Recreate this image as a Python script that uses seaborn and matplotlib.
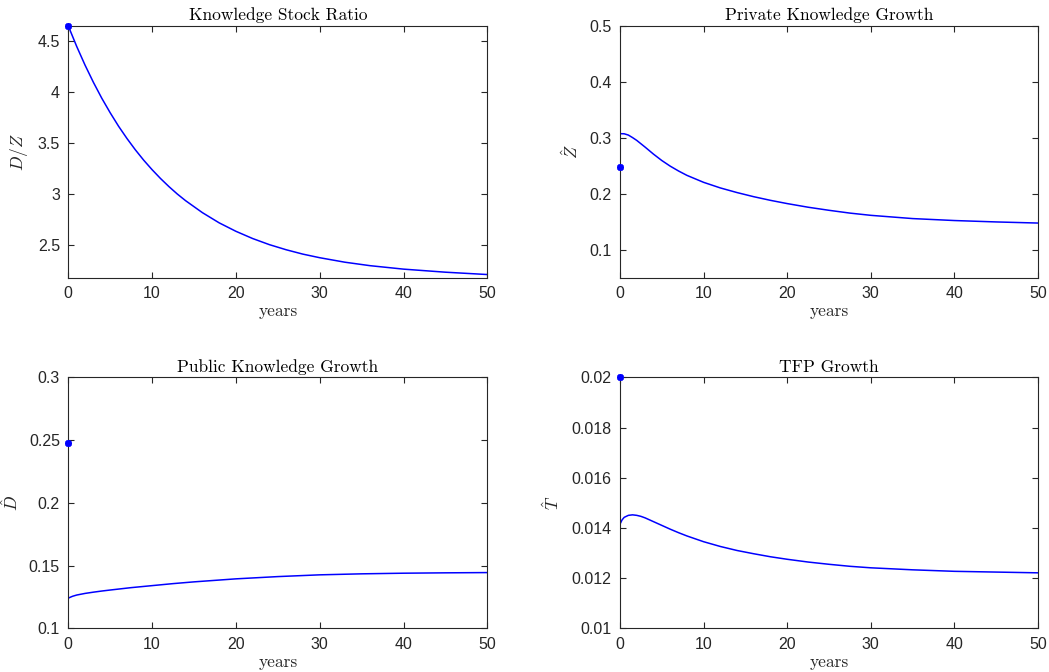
import numpy as np
import pandas as pd
import matplotlib
matplotlib.use("Agg")
import matplotlib.pyplot as plt
import seaborn as sns
from matplotlib.ticker import FuncFormatter

# ---------------- data ----------------
t_ratio = [0, 1, 2, 3, 4, 5, 6, 7, 8, 9, 10, 11, 12, 13, 14, 16, 18, 20, 22, 24,
           26, 28, 30, 33, 36, 40, 45, 50]
v_ratio = [4.647, 4.447, 4.263, 4.094, 3.938, 3.796, 3.664, 3.544, 3.433, 3.331,
           3.238, 3.152, 3.073, 3.000, 2.934, 2.817, 2.717, 2.634, 2.563, 2.503,
           2.453, 2.410, 2.375, 2.331, 2.297, 2.263, 2.233, 2.210]
star_ratio = 4.647

t_priv = [0, 0.5, 1, 1.5, 2, 3, 4, 5, 6, 7, 8, 10, 12, 14, 16, 18, 20, 22.5, 25,
          27.5, 30, 35, 40, 45, 50]
v_priv = [0.3075, 0.3073, 0.305, 0.3005, 0.2955, 0.2835, 0.271, 0.2595, 0.2495,
          0.2408, 0.233, 0.2205, 0.2105, 0.2022, 0.1948, 0.1883, 0.1825, 0.176,
          0.1705, 0.1655, 0.1615, 0.1557, 0.1522, 0.1497, 0.1477]
star_priv = 0.2476

t_pub = [0, 0.25, 0.5, 1, 2, 3, 4, 5, 7.5, 10, 12.5, 15, 20, 25, 30, 35, 40, 45, 50]
v_pub = [0.124, 0.1248, 0.1255, 0.1265, 0.1278, 0.1288, 0.1297, 0.1305, 0.1324,
         0.134, 0.1356, 0.137, 0.1394, 0.1412, 0.1426, 0.1434, 0.1439, 0.1442,
         0.1444]
star_pub = 0.248

t_tfp = [0, 0.25, 0.5, 1, 1.5, 2, 2.5, 3, 4, 5, 6, 7, 8, 10, 12, 14, 16, 18, 20,
         22.5, 25, 27.5, 30, 35, 40, 45, 50]
v_tfp = [0.01415, 0.01432, 0.01442, 0.01450, 0.01452, 0.01450, 0.01446, 0.0144,
         0.01425, 0.0141, 0.01395, 0.01381, 0.01368, 0.01345, 0.01326, 0.0131,
         0.01297, 0.01285, 0.01275, 0.01264, 0.01255, 0.01247, 0.01241, 0.01233,
         0.01227, 0.01224, 0.01221]
star_tfp = 0.02

titles = ["Knowledge Stock Ratio", "Private Knowledge Growth",
          "Public Knowledge Growth", "TFP Growth"]
ylabels = [r"$D/Z$", r"$\hat{Z}$", r"$\hat{D}$", r"$\hat{T}$"]
xticks = [0, 10, 20, 30, 40, 50]
yticks = [[2.5, 3, 3.5, 4, 4.5],
          [0.1, 0.2, 0.3, 0.4, 0.5],
          [0.1, 0.15, 0.2, 0.25, 0.3],
          [0.01, 0.012, 0.014, 0.016, 0.018, 0.02]]
ylims = [(2.179, 4.647), (0.05, 0.5), (0.1, 0.3), (0.01, 0.02)]

# ---------------- style ----------------
sns.set_theme(style="ticks")
plt.rcParams["font.family"] = ["Liberation Sans", "DejaVu Sans"]
plt.rcParams["mathtext.fontset"] = "cm"
axcol = "#262626"
plt.rcParams.update({
    "axes.edgecolor": axcol, "axes.linewidth": 0.8,
    "xtick.color": axcol, "ytick.color": axcol,
    "xtick.labelcolor": axcol, "ytick.labelcolor": axcol,
    "xtick.direction": "in", "ytick.direction": "in",
    "xtick.major.size": 4.5, "ytick.major.size": 4.5,
    "xtick.major.width": 0.8, "ytick.major.width": 0.8,
    "xtick.labelsize": 11.5, "ytick.labelsize": 11.5,
})

fig = plt.figure(figsize=(10.49, 6.72), dpi=100)
W, H = 1049, 672
boxes = [(68.3, 26, 487.3, 277.7), (620, 26, 1038, 277.7),
         (68.3, 377.3, 487.3, 628.3), (620, 377.3, 1038, 628.3)]
ylabel_x = [30, 581, 21, 562]
series = [(t_ratio, v_ratio, star_ratio), (t_priv, v_priv, star_priv),
          (t_pub, v_pub, star_pub), (t_tfp, v_tfp, star_tfp)]

for i, (box, (tt, vv, st)) in enumerate(zip(boxes, series)):
    x0, y0, x1, y1 = box
    ax = fig.add_axes([x0 / W, 1 - y1 / H, (x1 - x0) / W, (y1 - y0) / H])
    df = pd.DataFrame({"years": tt, "value": vv})
    sns.lineplot(data=df, x="years", y="value", ax=ax, color="#0000ff",
                 linewidth=1.1)
    ax.plot([0], [st], linestyle="none", marker=(8, 2, 0), markersize=5,
            color="#0000ff", markeredgewidth=1.3, clip_on=False, zorder=5)
    ax.set_xlim(0, 50)
    ax.set_ylim(*ylims[i])
    ax.set_xticks(xticks)
    ax.set_yticks(yticks[i])
    ax.yaxis.set_major_formatter(FuncFormatter(lambda v, p: f"{v:g}"))
    ax.tick_params(top=True, right=True, pad=6)
    for s in ax.spines.values():
        s.set_visible(True)
    ax.set_title(titles[i], family="cmr10", fontsize=12.5, pad=4, color="black")
    ax.set_xlabel("years", family="cmr10", fontsize=12.5, labelpad=2, color=axcol)
    ax.set_ylabel(ylabels[i], fontsize=12.5, color=axcol)
    ax.yaxis.set_label_coords((ylabel_x[i] - x0) / (x1 - x0), 0.5)

fig.savefig("out.png", dpi=100)
